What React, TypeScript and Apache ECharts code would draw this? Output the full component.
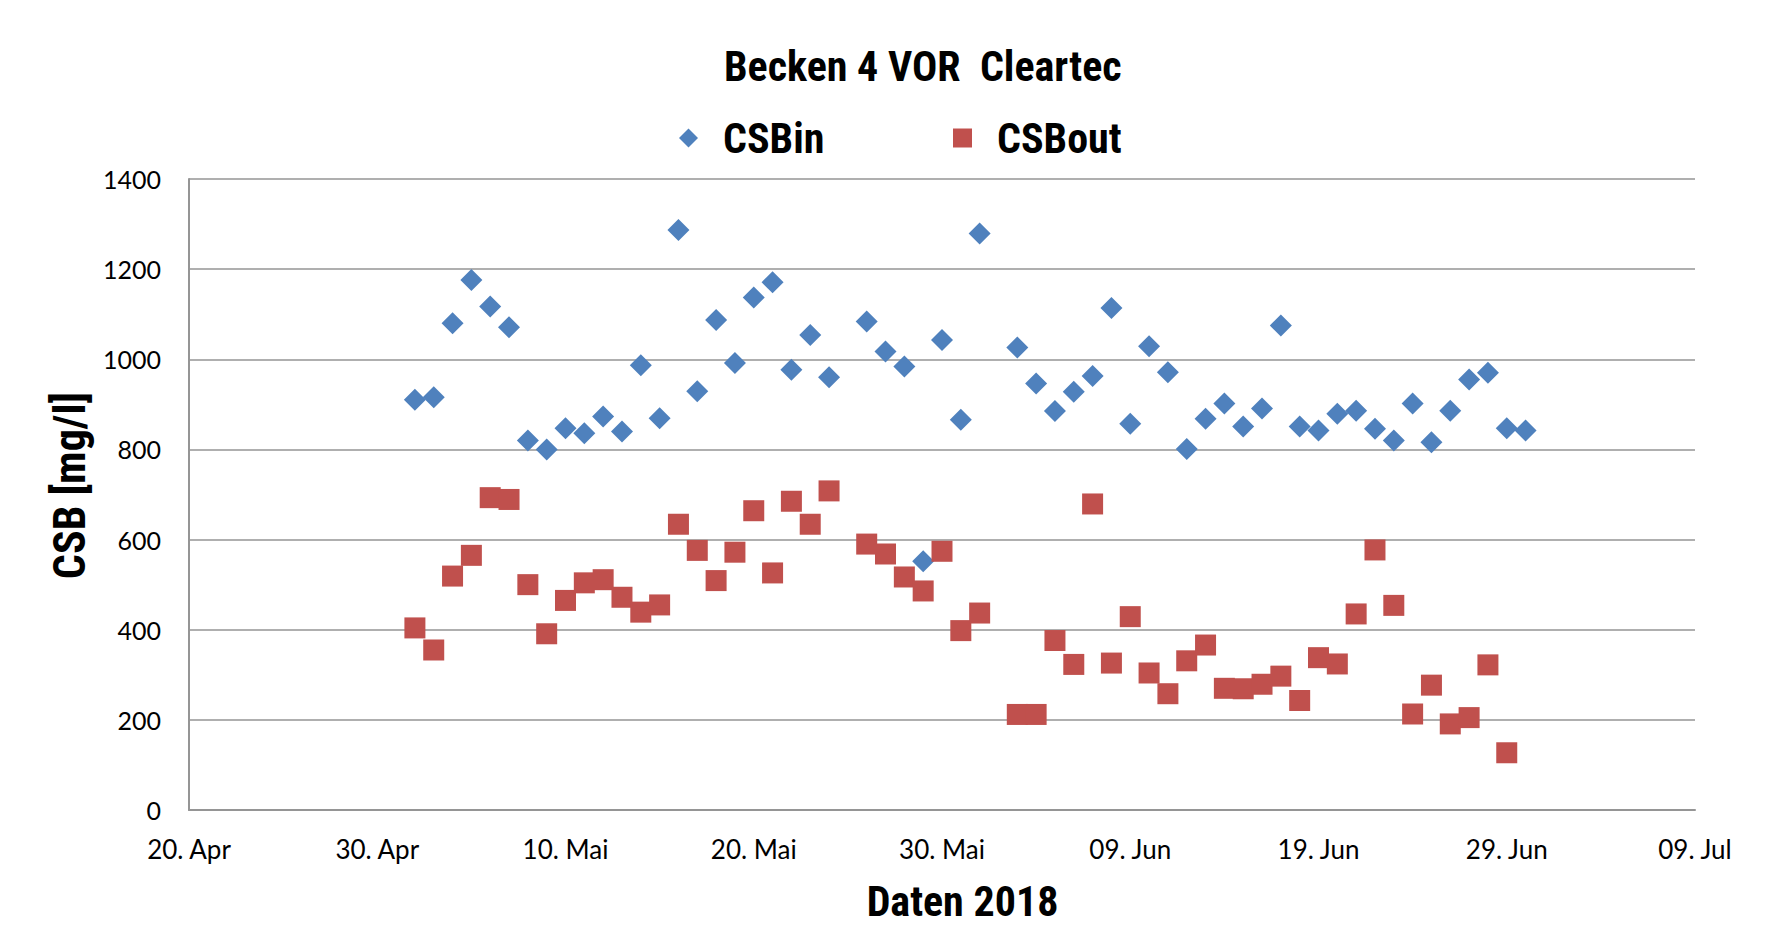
import React, { useEffect, useRef } from "react";
import * as echarts from "echarts";

const startDate = "2018-04-20";
const xMaxDays = 80;
const xTickLabels = ["20. Apr", "30. Apr", "10. Mai", "20. Mai", "30. Mai", "09. Jun", "19. Jun", "29. Jun", "09. Jul"];

const dates = [
  "2018-05-02", "2018-05-03", "2018-05-04", "2018-05-05", "2018-05-06", "2018-05-07", "2018-05-08",
  "2018-05-09", "2018-05-10", "2018-05-11", "2018-05-12", "2018-05-13", "2018-05-14", "2018-05-15",
  "2018-05-16", "2018-05-17", "2018-05-18", "2018-05-19", "2018-05-20", "2018-05-21", "2018-05-22",
  "2018-05-23", "2018-05-24", "2018-05-26", "2018-05-27", "2018-05-28", "2018-05-29", "2018-05-30",
  "2018-05-31", "2018-06-01", "2018-06-03", "2018-06-04", "2018-06-05", "2018-06-06", "2018-06-07",
  "2018-06-08", "2018-06-09", "2018-06-10", "2018-06-11", "2018-06-12", "2018-06-13", "2018-06-14",
  "2018-06-15", "2018-06-16", "2018-06-17", "2018-06-18", "2018-06-19", "2018-06-20", "2018-06-21",
  "2018-06-22", "2018-06-23", "2018-06-24", "2018-06-25", "2018-06-26", "2018-06-27", "2018-06-28",
  "2018-06-29", "2018-06-30",
];

const csbIn = [
  910, 916, 1080, 1176, 1117, 1071, 820, 800, 847, 836, 873, 840, 987, 869, 1287, 929, 1087, 992,
  1137, 1171, 977, 1054, 960, 1084, 1017, 984, 552, 1043, 866, 1279, 1026, 946, 885, 928, 963, 1114,
  857, 1029, 971, 801, 868, 902, 851, 891, 1075, 851, 842, 879, 886, 846, 820, 902, 816, 886, 955,
  970, 847, 842,
];

const csbOut = [
  404, 355, 519, 565, 693, 689, 500, 391, 465, 504, 511, 472, 439, 455, 634, 576, 509, 572, 664, 526,
  685, 634, 708, 590, 568, 517, 486, 574, 398, 437, 212, 212, 376, 323, 679, 326, 429, 304, 258, 331,
  366, 270, 269, 279, 297, 243, 338, 324, 435, 577, 454, 213, 277, 191, 205, 322, 127,
];

export default function App() {
  const ref = useRef<HTMLDivElement>(null);
  useEffect(() => {
    const chart = echarts.init(ref.current!, null, { renderer: "svg" });
    const t0 = Date.parse(startDate);
    const day = (d: string) => Math.round((Date.parse(d) - t0) / 86400000);
    const inData = csbIn.map((v, i) => [day(dates[i]), v]);
    const outData = csbOut.map((v, i) => [day(dates[i]), v]);
    const boldFont = "'Roboto Condensed', 'Open Sans Condensed', sans-serif";
    const tickFont = "Lato, 'Open Sans', sans-serif";
    const gridColor = "#959595";
    const legendText = {
      fontFamily: boldFont,
      fontWeight: "bold",
      fontSize: 42,
      color: "#000",
      padding: [0, 0, 0, 20],
    };

    chart.setOption({
      animation: false,
      backgroundColor: "#ffffff",
      title: {
        text: "Becken 4 VOR  Cleartec",
        left: 724,
        top: 45,
        padding: 0,
        textStyle: { fontFamily: boldFont, fontWeight: "bold", fontSize: 42, color: "#000" },
      },
      legend: [
        {
          left: 679,
          top: 117,
          padding: 0,
          itemWidth: 19,
          itemHeight: 19,
          textStyle: legendText,
          data: [{ name: "CSBin", icon: "diamond" }],
        },
        {
          left: 953,
          top: 117,
          padding: 0,
          itemWidth: 19,
          itemHeight: 19,
          textStyle: legendText,
          data: [{ name: "CSBout", icon: "rect" }],
        },
      ],
      grid: { left: 189, right: 96, top: 179, bottom: 122, containLabel: false },
      xAxis: {
        type: "value",
        min: 0,
        max: xMaxDays,
        interval: 10,
        name: "Daten 2018",
        nameLocation: "middle",
        nameGap: 70,
        nameTextStyle: {
          fontFamily: boldFont,
          fontWeight: "bold",
          fontSize: 42,
          color: "#000",
          padding: [0, 0, 0, 41],
        },
        axisLine: { show: true, lineStyle: { color: gridColor, width: 2 } },
        axisTick: { show: false },
        splitLine: { show: false },
        axisLabel: {
          margin: 26,
          fontFamily: tickFont,
          fontSize: 26,
          color: "#000",
          showMinLabel: true,
          showMaxLabel: true,
          formatter: (v: number) => xTickLabels[Math.round(v / 10)] ?? "",
        },
      },
      yAxis: {
        type: "value",
        min: 0,
        max: 1400,
        interval: 200,
        name: "CSB [mg/l]",
        nameLocation: "middle",
        nameGap: 97,
        nameTextStyle: {
          fontFamily: boldFont,
          fontWeight: "bold",
          fontSize: 44,
          color: "#000",
          padding: [0, 0, 0, 18],
        },
        axisLine: { show: true, lineStyle: { color: gridColor, width: 2 } },
        axisTick: { show: false },
        splitLine: { show: true, lineStyle: { color: gridColor, width: 1.5 } },
        axisLabel: {
          margin: 28,
          fontFamily: tickFont,
          fontSize: 25,
          color: "#000",
          formatter: (v: number) => String(v),
        },
      },
      series: [
        {
          name: "CSBin",
          type: "scatter",
          symbol: "diamond",
          symbolSize: 22,
          itemStyle: { color: "#4F81BD", opacity: 1 },
          data: inData,
        },
        {
          name: "CSBout",
          type: "scatter",
          symbol: "rect",
          symbolSize: 21,
          itemStyle: { color: "#C0504D", opacity: 1 },
          data: outData,
        },
      ],
    });
    return () => chart.dispose();
  }, []);
  return (
    <div
      ref={ref}
      style={{ position: "fixed", left: 0, top: 0, width: 1791, height: 932, background: "#fff" }}
    />
  );
}
